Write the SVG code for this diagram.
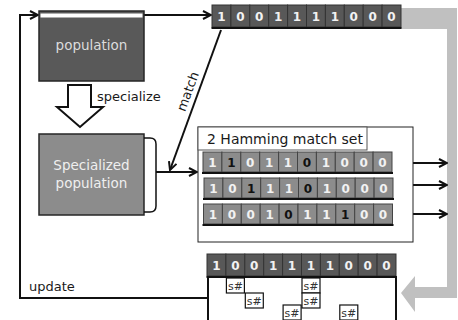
<svg xmlns="http://www.w3.org/2000/svg" xmlns:xlink="http://www.w3.org/1999/xlink" width="458" height="320" viewBox="0 0 458 320">
  <style>
    text { font-family: "DejaVu Sans", "Liberation Sans", sans-serif; }
    .lbl { font-size: 13px; fill: #1a1a1a; }
    .bits { font-size: 12px; font-weight: bold; fill: #f2f2f2; }
    .hi { fill: #111; }
    .dark { fill: #585858; stroke: #333; stroke-width: 1; }
    .grey { fill: #8c8c8c; stroke: #444; stroke-width: 1; }
    .base { fill: #111; }
    .wire { fill: none; stroke: #111; stroke-width: 2; }
    .sbox { fill: #fff; stroke: #111; stroke-width: 1.2; }
    .stxt { font-size: 11px; fill: #333; text-anchor: middle; }
  </style>
  <defs>
    <marker id="arr" viewBox="0 0 10 10" refX="9" refY="5" markerWidth="5" markerHeight="5" orient="auto" markerUnits="strokeWidth">
      <path d="M1,1 L9,5 L1,9" fill="none" stroke="#111" stroke-width="2"/>
    </marker>
    <!-- ten cells of a bit string, 22 px tall -->
    <g id="cells22">
      <rect x="0" y="0" width="18.9" height="22"/>
      <rect x="18.9" y="0" width="18.9" height="22"/>
      <rect x="37.8" y="0" width="18.9" height="22"/>
      <rect x="56.7" y="0" width="18.9" height="22"/>
      <rect x="75.6" y="0" width="18.9" height="22"/>
      <rect x="94.5" y="0" width="18.9" height="22"/>
      <rect x="113.4" y="0" width="18.9" height="22"/>
      <rect x="132.3" y="0" width="18.9" height="22"/>
      <rect x="151.2" y="0" width="18.9" height="22"/>
      <rect x="170.1" y="0" width="18.9" height="22"/>
    </g>
    <!-- ten cells of a bit string, 20 px tall -->
    <g id="cells20">
      <rect x="0" y="0" width="18.9" height="20"/>
      <rect x="18.9" y="0" width="18.9" height="20"/>
      <rect x="37.8" y="0" width="18.9" height="20"/>
      <rect x="56.7" y="0" width="18.9" height="20"/>
      <rect x="75.6" y="0" width="18.9" height="20"/>
      <rect x="94.5" y="0" width="18.9" height="20"/>
      <rect x="113.4" y="0" width="18.9" height="20"/>
      <rect x="132.3" y="0" width="18.9" height="20"/>
      <rect x="151.2" y="0" width="18.9" height="20"/>
      <rect x="170.1" y="0" width="18.9" height="20"/>
    </g>
  </defs>

  <!-- wide grey return arrow -->
  <polygon id="return-arrow" fill="#c0c0c0" points="401,8 457,8 457,298 415,298 415,312 401,293 415,276 415,287 447,287 447,29 401,29"/>

  <!-- connectors -->
  <g id="connectors">
    <polyline class="wire" points="208,298 20,298 20,15 38,15" marker-end="url(#arr)"/>
    <line class="wire" x1="144" y1="15" x2="211" y2="15" marker-end="url(#arr)"/>
    <line class="wire" x1="221" y1="30" x2="170" y2="170" marker-end="url(#arr)"/>
    <line class="wire" x1="156" y1="172" x2="197" y2="172" marker-end="url(#arr)"/>
    <line class="wire" x1="392" y1="163" x2="447" y2="163" marker-end="url(#arr)"/>
    <line class="wire" x1="393" y1="185" x2="447" y2="185" marker-end="url(#arr)"/>
    <line class="wire" x1="394" y1="214" x2="447" y2="214" marker-end="url(#arr)"/>
    <polygon id="specialize-arrow" points="68,85 91,85 91,107 103,107 80,127 57,107 68,107" fill="#fff" stroke="#111" stroke-width="2"/>
    <text class="lbl" x="97" y="101">specialize</text>
    <text class="lbl" x="192" y="93" text-anchor="middle" transform="rotate(-70 192 93)">match</text>
    <text class="lbl" x="29" y="291">update</text>
  </g>

  <!-- population -->
  <g id="population">
    <rect x="39" y="11" width="105" height="70" fill="#595959" stroke="#262626" stroke-width="1.5"/>
    <rect x="40.5" y="13.5" width="102" height="4" fill="#fff"/>
    <text x="91.5" y="50" font-size="13.5" fill="#dcdcdc" text-anchor="middle">population</text>
  </g>

  <!-- specialized population -->
  <g id="specialized-population">
    <rect x="39" y="134" width="105" height="81" fill="#8c8c8c" stroke="#262626" stroke-width="1.5"/>
    <path d="M144,138 h6 q6,0 6,6 v62 q0,6 -6,6 h-6" fill="none" stroke="#111" stroke-width="1.5"/>
    <text x="91.5" y="170" font-size="13.5" fill="#efefef" text-anchor="middle">Specialized</text>
    <text x="91.5" y="188" font-size="13.5" fill="#efefef" text-anchor="middle">population</text>
  </g>

  <!-- query bit string -->
  <g id="query" transform="translate(212,5)">
    <use xlink:href="#cells22" class="dark"/>
    <rect class="base" x="-0.5" y="22" width="190" height="2"/>
    <text class="bits" text-anchor="middle" x="9.45 28.35 47.25 66.15 85.05 103.95 122.85 141.75 160.65 179.55" y="15.5">1001111000</text>
  </g>

  <!-- match set -->
  <g id="match-set">
    <rect x="198" y="127" width="215" height="115" fill="#fff" stroke="#222" stroke-width="1"/>
    <rect x="198" y="127" width="169" height="23" fill="#fff" stroke="#555" stroke-width="1"/>
    <text x="207" y="144" font-size="14" fill="#1a1a1a">2 Hamming match set</text>
    <g id="row1" transform="translate(203,152)">
      <use xlink:href="#cells20" class="grey"/>
      <rect class="base" x="-1" y="20" width="191" height="2"/>
      <text class="bits" text-anchor="middle" x="9.45 28.35 47.25 66.15 85.05 103.95 122.85 141.75 160.65 179.55" y="14.5">1<tspan class="hi">1</tspan>011<tspan class="hi">0</tspan>1000</text>
    </g>
    <g id="row2" transform="translate(204,178)">
      <use xlink:href="#cells20" class="grey"/>
      <rect class="base" x="-1" y="20" width="191" height="2"/>
      <text class="bits" text-anchor="middle" x="9.45 28.35 47.25 66.15 85.05 103.95 122.85 141.75 160.65 179.55" y="14.5">10<tspan class="hi">1</tspan>11<tspan class="hi">0</tspan>1000</text>
    </g>
    <g id="row3" transform="translate(203.5,204)">
      <use xlink:href="#cells20" class="grey"/>
      <rect class="base" x="-1" y="20" width="191" height="2"/>
      <text class="bits" text-anchor="middle" x="9.45 28.35 47.25 66.15 85.05 103.95 122.85 141.75 160.65 179.55" y="14.5">1001<tspan class="hi">0</tspan>11<tspan class="hi">1</tspan>00</text>
    </g>
  </g>

  <!-- updated classifier with don't-care marks -->
  <g id="updated">
    <rect x="208" y="277" width="188" height="50" fill="#fff" stroke="#111" stroke-width="2"/>
    <g transform="translate(207,254)">
      <use xlink:href="#cells22" class="dark"/>
      <rect class="base" x="-0.5" y="22" width="190" height="2"/>
      <text class="bits" text-anchor="middle" x="9.45 28.35 47.25 66.15 85.05 103.95 122.85 141.75 160.65 179.55" y="15.5">1001111000</text>
    </g>
    <g id="s1"><rect class="sbox" x="226.4" y="278" width="18" height="15"/><text class="stxt" x="235.4" y="289.5">s#</text></g>
    <g id="s2"><rect class="sbox" x="245.3" y="293" width="18" height="15"/><text class="stxt" x="254.3" y="304.5">s#</text></g>
    <g id="s3"><rect class="sbox" x="283.1" y="305" width="18" height="15"/><text class="stxt" x="292.1" y="316.5">s#</text></g>
    <g id="s4"><rect class="sbox" x="302" y="278" width="18" height="15"/><text class="stxt" x="311" y="289.5">s#</text></g>
    <g id="s5"><rect class="sbox" x="302" y="293" width="18" height="15"/><text class="stxt" x="311" y="304.5">s#</text></g>
    <g id="s6"><rect class="sbox" x="339.8" y="305" width="18" height="15"/><text class="stxt" x="348.8" y="316.5">s#</text></g>
  </g>
</svg>
